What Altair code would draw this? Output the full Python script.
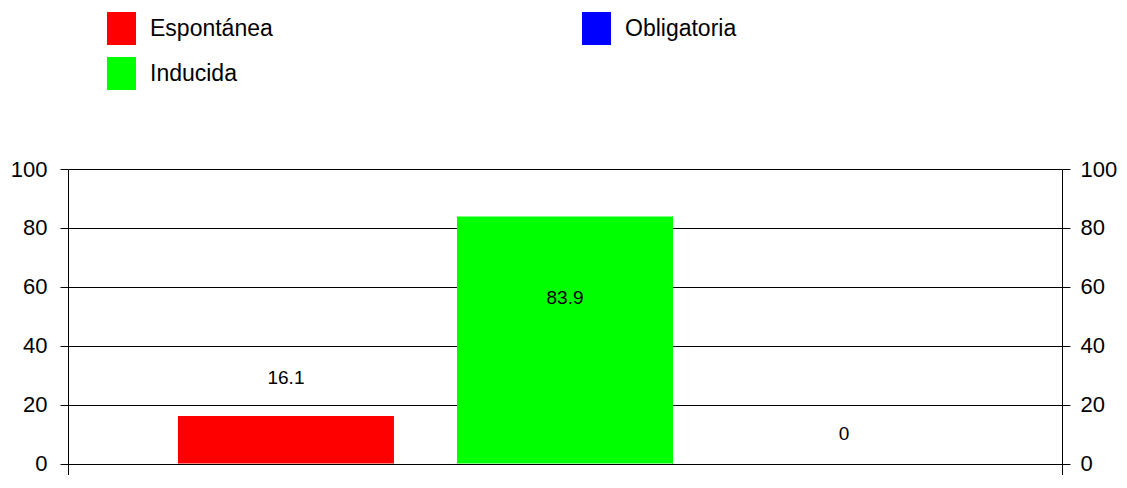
import altair as alt
import pandas as pd

categories = ["Espontánea", "Inducida", "Obligatoria"]
values = [16.1, 83.9, 0]
legend_colors = ["#FF0000", "#00FF00", "#0000FF"]
y_ticks = [0, 20, 40, 60, 80, 100]

df = pd.DataFrame({"cat": categories, "val": values})
FONT = "Liberation Sans"

xenc = alt.X("cat:N", sort=categories, axis=None,
             scale=alt.Scale(paddingInner=0.2258, paddingOuter=0.394))
yscale = alt.Scale(domain=[-3.9, 100], nice=False, zero=False)

left_axis = alt.Axis(orient="left", values=y_ticks, title=None, grid=True,
                     gridColor="black", gridOpacity=1, gridWidth=1,
                     domainColor="black", domainWidth=1, tickColor="black",
                     tickSize=8, tickWidth=1, labelFontSize=22, labelFont=FONT,
                     labelColor="black", labelPadding=13)
right_axis = alt.Axis(orient="right", values=y_ticks, title=None, grid=False,
                      domainColor="black", domainWidth=1, tickColor="black",
                      tickSize=8, tickWidth=1, labelFontSize=22, labelFont=FONT,
                      labelColor="black", labelPadding=10)

bars = alt.Chart(df).mark_bar(strokeWidth=0, opacity=1).encode(
    x=xenc,
    y=alt.Y("val:Q", scale=yscale, axis=left_axis),
    y2=alt.datum(0),
    color=alt.Color(
        "cat:N",
        scale=alt.Scale(domain=categories, range=legend_colors),
        legend=alt.Legend(
            title=None, orient="none", legendX=37, legendY=-157,
            values=categories,
            columns=2, columnPadding=307, rowPadding=12, padding=0,
            symbolType="M-0.88,-1H0.88V1H-0.88Z", symbolSize=1089,
            symbolStrokeWidth=0, symbolOpacity=1,
            labelFont=FONT, labelFontSize=23, labelColor="black",
            labelOffset=12, labelLimit=400,
        ),
    ),
)


def label(cat, dy, axis):
    return alt.Chart(df).transform_filter(alt.datum.cat == cat).mark_text(
        dy=dy, fontSize=19, font=FONT, color="black", baseline="middle"
    ).encode(
        x=xenc,
        y=alt.Y("val:Q", scale=yscale, axis=axis),
        text=alt.Text("val:Q"),
    )


chart = alt.layer(
    bars,
    label("Espontánea", -38, right_axis),
    label("Inducida", 82, None),
    label("Obligatoria", -30, None),
).resolve_scale(y="shared").resolve_axis(y="independent").properties(
    width=994, height=306,
    autosize=alt.AutoSizeParams(type="none"),
    padding={"left": 60, "top": 161, "right": 57, "bottom": 0},
).configure_view(stroke=None)

chart.save("out.html", embed_options={"renderer": "svg", "actions": False})
